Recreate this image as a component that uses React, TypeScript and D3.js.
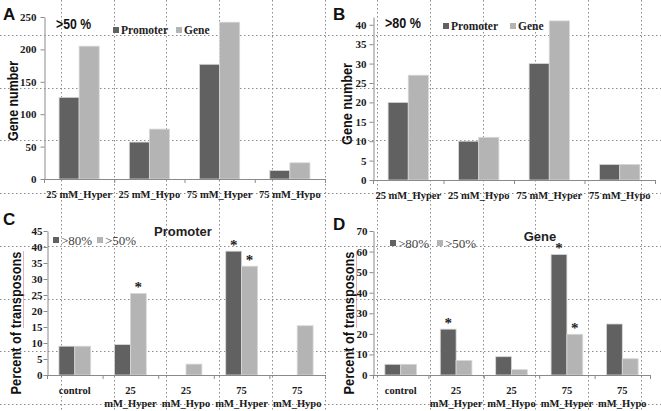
import React, { useEffect, useRef } from 'react';
import * as d3 from 'd3';

// panel A / B: gene counts
const countCats = ['25 mM_Hyper', '25 mM_Hypo', '75 mM_Hyper', '75 mM_Hypo'];
const promoter50 = [126, 57, 177, 13];
const gene50 = [205, 77, 242, 25];
const promoter80 = [20, 10, 30, 4];
const gene80 = [27, 11, 41, 4];
const ticksA = [0, 50, 100, 150, 200, 250];
const ticksB = [0, 5, 10, 15, 20, 25, 30, 35, 40];

// panel C / D: percent of transposons
const pctCats = ['control', '25\nmM_Hyper', '25\nmM_Hypo', '75\nmM_Hyper', '75\nmM_Hypo'];
const promoterGt80 = [9, 9.5, 0, 38.7, 0];
const promoterGt50 = [9, 25.5, 3.4, 34, 15.4];
const geneGt80 = [5.2, 22.3, 8.9, 58.6, 24.8];
const geneGt50 = [5.2, 7, 2.6, 19.8, 7.9];
const promoterStar80 = [false, false, false, true, false];
const promoterStar50 = [false, true, false, true, false];
const geneStar80 = [false, true, false, true, false];
const geneStar50 = [false, false, false, true, false];
const ticksC = [0, 5, 10, 15, 20, 25, 30, 35, 40, 45];
const ticksD = [0, 10, 20, 30, 40, 50, 60, 70];

const DARK = '#616161';
const LIGHT = '#b4b4b4';
const SERIF = '"Liberation Serif", "Times New Roman", serif';
const SANS = '"Liberation Sans", Arial, sans-serif';

const panels = [
  {
    letter: 'A', lx: 3, ly: 20, cats: countCats, s1: promoter50, s2: gene50, st1: null, st2: null,
    max: 250, ticks: ticksA, x0: 44, x1: 325, y0: 179, y1: 17, tickRight: 36,
    ytitle: 'Gene number', ytx: 13, yty: 101, ytLen: 80,
    tag: '>50 %', tagX: 56, tagY: 29, tagLen: 35,
    leg: ['Promoter', 'Gene'], legX: 113, legY: 30, legGap: 63, legSerifBold: true,
  },
  {
    letter: 'B', lx: 333, ly: 20, cats: countCats, s1: promoter80, s2: gene80, st1: null, st2: null,
    max: 42, ticks: ticksB, x0: 373, x1: 655, y0: 180, y1: 17, tickRight: 366,
    ytitle: 'Gene number', ytx: 347, yty: 104, ytLen: 82,
    tag: '>80 %', tagX: 385, tagY: 28, tagLen: 36,
    leg: ['Promoter', 'Gene'], legX: 443, legY: 26, legGap: 67, legSerifBold: true,
  },
  {
    letter: 'C', lx: 3, ly: 225, cats: pctCats, s1: promoterGt80, s2: promoterGt50, st1: promoterStar80, st2: promoterStar50,
    max: 45, ticks: ticksC, x0: 47, x1: 325, y0: 375, y1: 231, tickRight: 42,
    ytitle: 'Percent of transposons', ytx: 16, yty: 323, ytLen: 143,
    title: 'Promoter', titleX: 183, titleY: 236,
    leg: ['>80%', '>50%'], legX: 53, legY: 240, legGap: 44, legSerifBold: false,
  },
  {
    letter: 'D', lx: 333, ly: 230, cats: pctCats, s1: geneGt80, s2: geneGt50, st1: geneStar80, st2: geneStar50,
    max: 70, ticks: ticksD, x0: 373, x1: 650, y0: 375, y1: 231, tickRight: 367,
    ytitle: 'Percent of transposons', ytx: 349, yty: 323, ytLen: 143,
    title: 'Gene', titleX: 540, titleY: 241,
    leg: ['>80%', '>50%'], legX: 390, legY: 243, legGap: 47, legSerifBold: false,
  },
];

const App = () => {
  const ref = useRef(null);

  useEffect(() => {
    const svg = d3.select(ref.current);
    svg.selectAll('*').remove();

    // dotted slide grid behind everything
    const grid = svg.append('g').attr('stroke', '#8c8c8c').attr('stroke-width', 1).attr('stroke-dasharray', '1.5,2.5');
    d3.range(12).forEach((i) => {
      const gx = Math.round(61 + i * 52.7) + 0.5;
      grid.append('line').attr('x1', gx).attr('x2', gx).attr('y1', 0).attr('y2', 411);
    });
    d3.range(8).forEach((i) => {
      const gy = Math.round(35 + i * 52.7) + 0.5;
      grid.append('line').attr('x1', 0).attr('x2', 661).attr('y1', gy).attr('y2', gy);
    });

    panels.forEach((p) => {
      const g = svg.append('g');
      const x = d3.scaleBand().domain(p.cats).range([p.x0, p.x1]).padding(0);
      const y = d3.scaleLinear().domain([0, p.max]).range([p.y0, p.y1]);
      const bw = x.bandwidth() / 3.5;
      const inner = d3.scaleBand().domain(['s1', 's2']).range([-bw, bw]);

      const series = [
        { key: 's1', values: p.s1, color: DARK, stars: p.st1 },
        { key: 's2', values: p.s2, color: LIGHT, stars: p.st2 },
      ];

      series.forEach((s) => {
        const rows = s.values.map((v, i) => ({ v, cat: p.cats[i], star: s.stars ? s.stars[i] : false }));
        const bx = (d) => x(d.cat) + x.bandwidth() / 2 + inner(s.key);

        g.selectAll(null)
          .data(rows.filter((d) => d.v > 0))
          .join('rect')
          .attr('x', bx)
          .attr('y', (d) => y(d.v))
          .attr('width', inner.bandwidth())
          .attr('height', (d) => p.y0 - y(d.v))
          .attr('fill', s.color)
          .attr('stroke', '#d8d8d8')
          .attr('stroke-width', 0.8);

        g.selectAll(null)
          .data(rows.filter((d) => d.star))
          .join('text')
          .attr('x', (d) => bx(d) + inner.bandwidth() / 2)
          .attr('y', (d) => y(d.v) - 1)
          .attr('text-anchor', 'middle')
          .attr('font-family', SERIF)
          .attr('font-weight', 'bold')
          .attr('font-size', 15)
          .attr('fill', '#222')
          .text('*');
      });

      // y axis
      const yAxis = g.append('g')
        .attr('transform', `translate(${p.x0 + 0.5},0)`)
        .call(d3.axisLeft(y).tickValues(p.ticks).tickSize(4).tickSizeOuter(0).tickPadding(p.x0 - 4 - p.tickRight));
      yAxis.select('.domain').attr('stroke', '#8a8a8a');
      yAxis.selectAll('.tick line').attr('stroke', '#8a8a8a');
      yAxis.selectAll('.tick text')
        .attr('font-family', SERIF)
        .attr('font-weight', 'bold')
        .attr('font-size', 11)
        .attr('fill', '#1a1a1a');

      // x axis
      g.append('line')
        .attr('x1', p.x0).attr('x2', p.x1)
        .attr('y1', p.y0 + 0.5).attr('y2', p.y0 + 0.5)
        .attr('stroke', '#8a8a8a');
      g.selectAll(null)
        .data(d3.range(p.cats.length + 1))
        .join('line')
        .attr('x1', (i) => p.x0 + i * x.bandwidth() + 0.5)
        .attr('x2', (i) => p.x0 + i * x.bandwidth() + 0.5)
        .attr('y1', p.y0)
        .attr('y2', p.y0 + 4)
        .attr('stroke', '#8a8a8a');

      const xl = g.selectAll(null)
        .data(p.cats)
        .join('text')
        .attr('text-anchor', 'middle')
        .attr('font-family', SERIF)
        .attr('font-weight', 'bold')
        .attr('font-size', 10.5)
        .attr('fill', '#1a1a1a');
      xl.each(function (d) {
        const lines = d.split('\n');
        const cx = x(d) + x.bandwidth() / 2;
        d3.select(this).selectAll('tspan')
          .data(lines)
          .join('tspan')
          .attr('x', cx)
          .attr('y', (l, j) => p.y0 + 19 + j * 13)
          .text((l) => l);
      });

      // panel letter
      g.append('text')
        .attr('x', p.lx).attr('y', p.ly)
        .attr('font-family', SANS).attr('font-weight', 'bold').attr('font-size', 17)
        .attr('fill', '#111')
        .text(p.letter);

      // y title
      g.append('text')
        .attr('transform', `translate(${p.ytx},${p.yty}) rotate(-90)`)
        .attr('text-anchor', 'middle')
        .attr('dy', '0.35em')
        .attr('font-family', SANS).attr('font-weight', 'bold').attr('font-size', 15)
        .attr('textLength', p.ytLen).attr('lengthAdjust', 'spacingAndGlyphs')
        .attr('fill', '#111')
        .text(p.ytitle);
      if (p.ytitle.startsWith('Percent')) {
        // spell-check squiggle under "transposons"
        g.append('line')
          .attr('x1', p.ytx + 7.5).attr('x2', p.ytx + 7.5)
          .attr('y1', p.yty - p.ytLen / 2).attr('y2', p.yty + 5)
          .attr('stroke', '#e06060').attr('stroke-width', 1).attr('stroke-dasharray', '1,1');
      }

      if (p.tag) {
        g.append('text')
          .attr('x', p.tagX).attr('y', p.tagY)
          .attr('font-family', SANS).attr('font-weight', 'bold').attr('font-size', 15)
          .attr('textLength', p.tagLen).attr('lengthAdjust', 'spacingAndGlyphs')
          .attr('fill', '#111')
          .text(p.tag);
      }
      if (p.title) {
        g.append('text')
          .attr('x', p.titleX).attr('y', p.titleY)
          .attr('text-anchor', 'middle')
          .attr('font-family', SANS).attr('font-weight', 'bold').attr('font-size', 13)
          .attr('fill', '#222')
          .text(p.title);
      }

      // legend
      [DARK, LIGHT].forEach((c, i) => {
        const lx = p.legX + i * p.legGap;
        g.append('rect')
          .attr('x', lx).attr('y', p.legY - 3)
          .attr('width', 6).attr('height', 6)
          .attr('fill', c);
        g.append('text')
          .attr('x', lx + 8).attr('y', p.legY)
          .attr('dy', '0.35em')
          .attr('font-family', SERIF)
          .attr('font-weight', p.legSerifBold ? 'bold' : 'normal')
          .attr('font-size', p.legSerifBold ? 11.5 : 13)
          .attr('fill', p.legSerifBold ? '#222' : '#444')
          .text(p.leg[i]);
      });
    });

    return () => {
      d3.select(ref.current).selectAll('*').remove();
    };
  }, []);

  return (
    <svg
      ref={ref}
      width={661}
      height={411}
      style={{ position: 'absolute', left: 0, top: 0, background: '#fff' }}
    />
  );
};

export default App;
